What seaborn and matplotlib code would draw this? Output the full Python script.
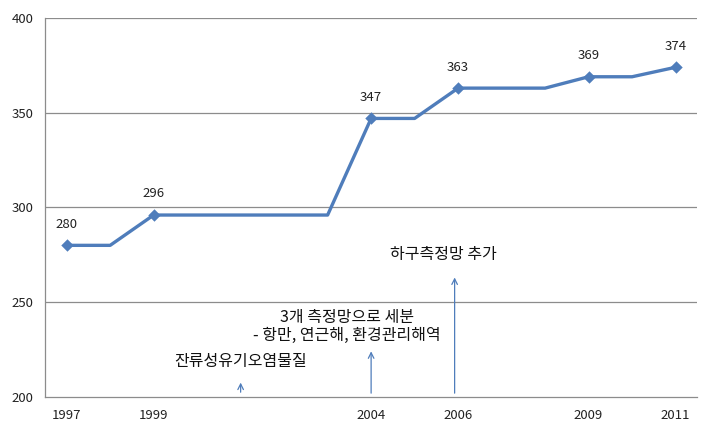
import matplotlib
matplotlib.use("Agg")
import matplotlib.pyplot as plt
import seaborn as sns
import pandas as pd
import numpy as np

years = [1997, 1998, 1999, 2000, 2001, 2002, 2003, 2004, 2005, 2006, 2007, 2008, 2009, 2010, 2011]
values = [280, 280, 296, 296, 296, 296, 296, 347, 347, 363, 363, 363, 369, 369, 374]
labeled_years = [1997, 1999, 2004, 2006, 2009, 2011]

notes = ["잔류성유기오염물질", "3개 측정망으로 세분\n- 항만, 연근해, 환경관리해역", "하구측정망 추가"]
note_years = [2001, 2004, 2006]

sns.set_theme(style="white")
plt.rcParams['font.family'] = ['Noto Sans CJK KR', 'DejaVu Sans']

df = pd.DataFrame({"year": years, "value": values})
df["pos"] = np.arange(len(years))
lab = df[df["year"].isin(labeled_years)]

fig = plt.figure(figsize=(7.13, 4.4), dpi=100)
ax = fig.add_axes([0.063, 0.098, 0.915, 0.861])

line_color = "#4F7DBB"
grid_color = "#8C8C8C"

for yv in [250, 300, 350, 400]:
    ax.axhline(yv, color=grid_color, lw=0.9, zorder=0)

sns.lineplot(data=df, x="pos", y="value", ax=ax, color=line_color, lw=2.4, zorder=3)
sns.scatterplot(data=lab, x="pos", y="value", ax=ax, color=line_color, marker="D",
                s=40, edgecolor=line_color, linewidth=0, zorder=4)

for _, r in lab.iterrows():
    ax.annotate(f"{r['value']}", (r["pos"], r["value"]), xytext=(0, 10.5),
                textcoords="offset points", ha="center", va="bottom", fontsize=9.5, color="#222222")

ax.set_xlim(-0.5, len(years) - 0.5)
ax.set_ylim(200, 400)
ax.set_yticks([200, 250, 300, 350, 400])
ax.set_yticklabels(["200", "250", "300", "350", "400"], fontsize=9.5)
ax.set_xticks(lab["pos"].tolist())
ax.set_xticklabels([str(y) for y in labeled_years], fontsize=9.5)
ax.set_xticks(np.arange(len(years) + 1) - 0.5, minor=True)
ax.tick_params(axis="x", which="major", length=0, pad=9, colors="#222222")
ax.tick_params(axis="x", which="minor", length=5, color=grid_color, direction="out")
ax.tick_params(axis="y", which="major", length=4, color=grid_color, direction="out", pad=4, colors="#222222")
ax.tick_params(axis="y", color=grid_color)
ax.set_xlabel("")
ax.set_ylabel("")

for s in ["top", "right"]:
    ax.spines[s].set_visible(False)
for s in ["left", "bottom"]:
    ax.spines[s].set_color(grid_color)
    ax.spines[s].set_linewidth(0.9)

arrow_kw = dict(arrowstyle="->", color="#4F7DBB", lw=0.9, mutation_scale=10)
pos_of = {y: i for i, y in enumerate(years)}
# note 1
x1 = pos_of[note_years[0]]
ax.annotate("", xy=(x1, 209), xytext=(x1, 201), arrowprops=arrow_kw, annotation_clip=False)
ax.text(x1, 218.5, notes[0], ha="center", va="center", fontsize=11.5, color="#111111")
# note 2
x2 = pos_of[note_years[1]]
ax.annotate("", xy=(x2, 225.5), xytext=(x2, 200.5), arrowprops=arrow_kw, annotation_clip=False)
ax.text(x2 - 0.55, 237, notes[1], ha="center", va="center", fontsize=11.5, color="#111111",
        linespacing=1.05)
# note 3
x3 = pos_of[note_years[2]] - 0.08
ax.annotate("", xy=(x3, 264.5), xytext=(x3, 200.5), arrowprops=arrow_kw, annotation_clip=False)
ax.text(x3 - 0.25, 275, notes[2], ha="center", va="center", fontsize=11.5, color="#111111")

fig.savefig("out.png", dpi=100)
